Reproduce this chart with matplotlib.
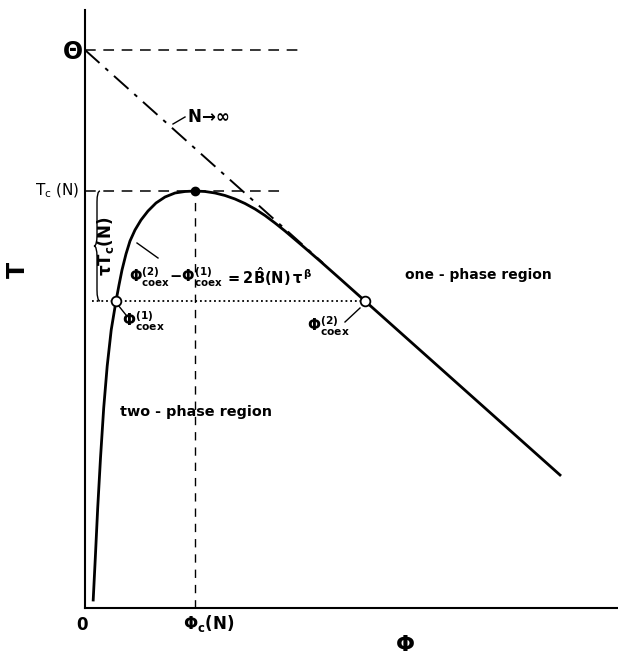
import matplotlib
matplotlib.use("Agg")
import matplotlib.pyplot as plt
from matplotlib.path import Path
from matplotlib.patches import PathPatch

plt.rcParams['font.family'] = ['DejaVu Sans']
plt.rcParams['mathtext.fontset'] = 'dejavusans'
plt.rcParams['mathtext.default'] = 'bf'

# ---- data (schematic values) ----
theta = 5.58          # Theta-temperature
Tc = 4.17             # critical temperature T_c(N)
phi_c = 1.10          # critical concentration
T_coex = 3.07         # temperature of the tie line
phi_coex1 = 0.31
phi_coex2 = 2.80
asym_slope = 0.895    # slope of N->inf line
asym_end_phi = 2.38

curve_phi = [0.082, 0.103, 0.127, 0.155, 0.187, 0.222, 0.262, 0.31,
             0.34, 0.37, 0.41, 0.45, 0.50, 0.56, 0.63, 0.71, 0.80, 0.90, 1.00,
             1.10, 1.20, 1.30, 1.40, 1.50, 1.60, 1.70, 1.80, 1.90, 2.00,
             2.10, 2.20, 2.35, 2.55, 2.80, 4.75]
curve_T = [0.08, 0.50, 1.00, 1.50, 2.00, 2.42, 2.78, 3.07,
           3.23, 3.38, 3.54, 3.67, 3.78, 3.88, 3.97, 4.05, 4.11, 4.15, 4.165,
           4.17, 4.165, 4.15, 4.125, 4.09, 4.045, 3.99, 3.925, 3.85, 3.77,
           3.685, 3.60, 3.47, 3.293, 3.07, 1.33]

fig = plt.figure(figsize=(6.18, 6.56), dpi=100)
ax = fig.add_axes([85/618, 48/656, 533/618, 598/656])
ax.set_xlim(0, 5.33)
ax.set_ylim(0, 5.98)
for s in ['top', 'right']:
    ax.spines[s].set_visible(False)
for s in ['left', 'bottom']:
    ax.spines[s].set_linewidth(1.5)
ax.set_xticks([])
ax.set_yticks([])

# main coexistence curve
ax.plot(curve_phi, curve_T, color='black', lw=2.0, solid_joinstyle='round', zorder=3)

# N -> infinity asymptote (dash-dot)
ax.plot([0, asym_end_phi], [theta, theta - asym_slope * asym_end_phi],
        color='black', lw=1.4, dashes=(10, 4, 2, 4), zorder=2)

# dashed reference lines
ax.plot([0, 2.17], [theta, theta], color='black', lw=1.1, dashes=(7, 5))
ax.plot([0, 1.95], [Tc, Tc], color='black', lw=1.1, dashes=(7, 5))
ax.plot([phi_c, phi_c], [0, Tc], color='black', lw=1.0, dashes=(6, 5))

# dotted tie line
ax.plot([0.07, phi_coex2], [T_coex, T_coex], color='black', lw=1.3,
        linestyle=(0, (1, 1.6)))

# points
ax.plot([phi_c], [Tc], 'o', color='black', ms=6, zorder=5)
ax.plot([phi_coex1, phi_coex2], [T_coex, T_coex], 'o', mfc='white', mec='black',
        mew=1.3, ms=7, zorder=5)

# brace
x0, w = 0.15, 0.06
mid = (Tc + T_coex) / 2
H = (Tc - T_coex) / 2
verts = [(x0, Tc), (x0 - w / 2, Tc), (x0 - w / 2, Tc - 0.2 * H),
         (x0 - w / 2, mid + 0.2 * H),
         (x0 - w / 2, mid), (x0 - w, mid),
         (x0 - w / 2, mid), (x0 - w / 2, mid - 0.2 * H),
         (x0 - w / 2, T_coex + 0.2 * H),
         (x0 - w / 2, T_coex), (x0, T_coex)]
codes = [Path.MOVETO, Path.CURVE3, Path.CURVE3, Path.LINETO,
         Path.CURVE3, Path.CURVE3, Path.CURVE3, Path.CURVE3, Path.LINETO,
         Path.CURVE3, Path.CURVE3]
ax.add_patch(PathPatch(Path(verts, codes), fill=False, lw=1.0, color='black'))

kw = dict(color='black', clip_on=False)
ax.text(-0.13, theta - 0.02, r'$\Theta$', fontsize=17, ha='center', va='center', **kw)
ax.text(-0.05, Tc, r'$\mathrm{T_c}$ (N)', fontsize=11, ha='right', va='center', **kw)
ax.text(0.20, mid, r'$\tau T_c(N)$', fontsize=12, rotation=90, ha='center', va='center', **kw)

ax.text(1.02, 4.91, r'$N\!\rightarrow\!\infty$', fontsize=12, ha='left', va='center', **kw)
ax.plot([0.88, 1.00], [4.84, 4.91], color='black', lw=1.0)

ax.text(0.44, 3.31, r'$\Phi^{(2)}_{coex}\!-\!\Phi^{(1)}_{coex}$', fontsize=10.5,
        ha='left', va='center', **kw)
ax.text(1.40, 3.31, r'$=2\hat{B}(N)\,\tau^{\,\beta}$', fontsize=10.5,
        ha='left', va='center', **kw)
ax.plot([0.52, 0.73], [3.65, 3.50], color='black', lw=1.0)

ax.text(0.37, 2.87, r'$\Phi^{(1)}_{coex}$', fontsize=11, ha='left', va='center', **kw)
ax.plot([0.33, 0.41], [3.03, 2.93], color='black', lw=1.0)
ax.text(2.22, 2.82, r'$\Phi^{(2)}_{coex}$', fontsize=11, ha='left', va='center', **kw)
ax.plot([2.60, 2.75], [2.86, 3.00], color='black', lw=1.0)

ax.text(3.20, 3.33, 'one - phase region', fontsize=10, fontweight='bold',
        ha='left', va='center', **kw)
ax.text(0.35, 1.96, 'two - phase region', fontsize=10.4, fontweight='bold',
        ha='left', va='center', **kw)

ax.text(-0.03, -0.17, '0', fontsize=12, fontweight='bold', ha='center', va='center', **kw)
ax.text(phi_c - 0.12, -0.16, r'$\Phi_c(N)$', fontsize=12, ha='left', va='center', **kw)
ax.text(3.20, -0.37, r'$\Phi$', fontsize=16, ha='center', va='center', **kw)
ax.text(-0.67, 3.38, r'$T$', fontsize=17, rotation=90, ha='center', va='center', **kw)

fig.savefig('out.png', dpi=100, facecolor='white')
